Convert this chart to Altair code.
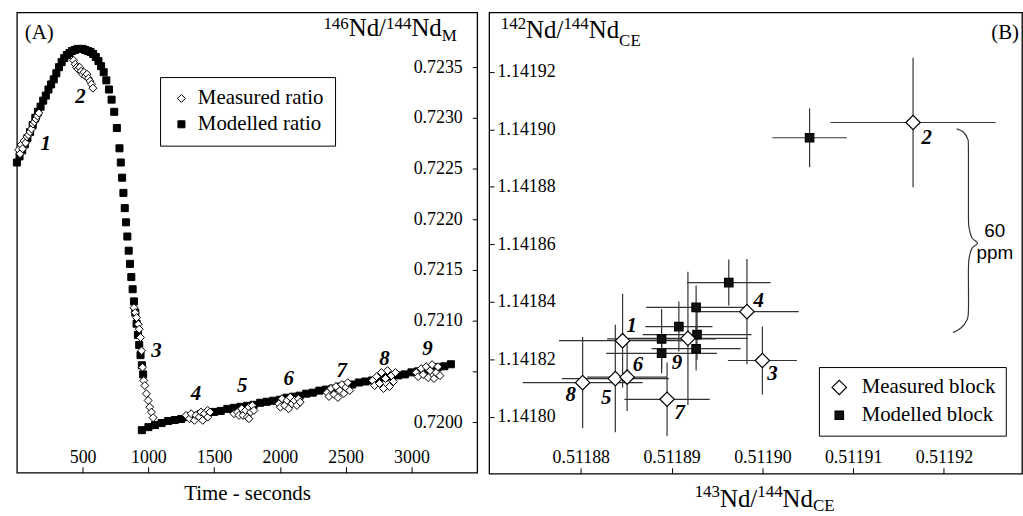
import altair as alt
import pandas as pd

FONT = "Liberation Serif"

# ---------------- Panel A data ----------------
model_t = [0, 20, 40, 60, 80, 100, 120, 140, 160, 180, 200, 220, 240, 260, 280, 300, 320, 340, 360, 380,
           400, 420, 440, 460, 480, 500, 520, 540, 560, 580, 600, 620, 640, 660, 680, 700, 720, 740, 760, 780,
           790, 800, 810, 820, 830, 840, 850, 860, 870, 880, 890, 900, 910, 920, 930, 940, 950, 960,
           950, 1000, 1050, 1100, 1150, 1200, 1250, 1300, 1350, 1400, 1450, 1500, 1550, 1600, 1650, 1700,
           1750, 1800, 1850, 1900, 1950, 2000, 2050, 2100, 2150, 2200, 2250, 2300, 2350, 2400, 2450, 2500,
           2550, 2600, 2650, 2700, 2750, 2800, 2850, 2900, 2950, 3000, 3050, 3100, 3150, 3200, 3250, 3300]
model_v = [0.72256, 0.72262, 0.72268, 0.72274, 0.72280, 0.72286, 0.72293, 0.72300, 0.72306, 0.72311,
           0.72317, 0.72322, 0.72328, 0.72333, 0.72338, 0.72344, 0.72350, 0.72355, 0.72359, 0.72362,
           0.72364, 0.72366, 0.72367, 0.72368, 0.72368, 0.72368, 0.72367, 0.72366, 0.72365, 0.72363,
           0.72360, 0.72356, 0.72351, 0.72345, 0.72337, 0.72328, 0.72318, 0.72306, 0.72290, 0.72270,
           0.72256, 0.72241, 0.72226, 0.72211, 0.72197, 0.72183, 0.72169, 0.72156, 0.72143, 0.72131,
           0.72119, 0.72108, 0.72097, 0.72086, 0.72076, 0.72066, 0.72056, 0.72047,
           0.71992, 0.71995, 0.71997, 0.71999, 0.72001, 0.72002, 0.72003, 0.72005, 0.72006, 0.72008,
           0.72009, 0.72010, 0.72011, 0.72013, 0.72014, 0.72015, 0.72016, 0.72017, 0.72019, 0.72020,
           0.72021, 0.72022, 0.72024, 0.72025, 0.72026, 0.72028, 0.72029, 0.72031, 0.72032, 0.72033,
           0.72035, 0.72036, 0.72037, 0.72039, 0.72040, 0.72041, 0.72042, 0.72044, 0.72045, 0.72046,
           0.72047, 0.72049, 0.72050, 0.72051, 0.72053, 0.72054, 0.72055, 0.72057]

meas_t = [13, 24, 32, 43, 54, 66, 77, 88, 100, 111, 122, 133, 145, 156, 167,
          431, 443, 454, 465, 477, 488, 499, 510, 522, 533, 544, 556, 567, 578,
          890, 900, 910, 923, 930, 940, 948, 955, 965, 973, 985, 998, 1010, 1023, 1036,
          1287, 1312, 1325, 1350, 1362, 1387, 1400, 1413, 1425, 1451, 1451, 1468,
          1651, 1677, 1689, 1709, 1719, 1739, 1752, 1764, 1777, 1790, 1802, 1764,
          1991, 2003, 2016, 2036, 2054, 2066, 2079, 2092, 2111, 2129, 2141, 2154,
          2358, 2373, 2388, 2411, 2426, 2441, 2456, 2471, 2486, 2501, 2516, 2531,
          2705, 2720, 2735, 2757, 2772, 2788, 2803, 2818, 2833, 2848, 2863, 2878,
          3036, 3051, 3074, 3089, 3112, 3127, 3142, 3157, 3172, 3187, 3202, 3217]
meas_v = [0.722685, 0.722646, 0.722734, 0.722695, 0.722773, 0.722753, 0.722813, 0.722832, 0.722862,
          0.722891, 0.722940, 0.722960, 0.722989, 0.723019, 0.723048,
          0.723568, 0.723529, 0.723499, 0.723480, 0.723499, 0.723460, 0.723431, 0.723450, 0.723411,
          0.723431, 0.723391, 0.723362, 0.723332, 0.723293,
          0.721128, 0.721079, 0.721030, 0.720965, 0.720916, 0.720834, 0.720703, 0.720540, 0.720409,
          0.720360, 0.720279, 0.720213, 0.720147, 0.720098, 0.720043,
          0.720066, 0.720033, 0.720082, 0.720017, 0.720066, 0.720049, 0.720098, 0.720017, 0.720082,
          0.720049, 0.720115, 0.720098,
          0.720082, 0.720098, 0.720066, 0.720131, 0.720066, 0.720115, 0.720049, 0.720147, 0.720098,
          0.720164, 0.720115, 0.720033,
          0.720180, 0.720147, 0.720230, 0.720164, 0.720213, 0.720131, 0.720245, 0.720180, 0.720213,
          0.720164, 0.720229, 0.720196,
          0.720291, 0.720252, 0.720331, 0.720272, 0.720350, 0.720242, 0.720311, 0.720370, 0.720282,
          0.720340, 0.720389, 0.720311,
          0.720409, 0.720360, 0.720448, 0.720380, 0.720488, 0.720331, 0.720429, 0.720507, 0.720350,
          0.720458, 0.720399, 0.720488,
          0.720488, 0.720448, 0.720527, 0.720468, 0.720546, 0.720438, 0.720507, 0.720566, 0.720429,
          0.720488, 0.720546, 0.720458]

blockA_lab = ["1", "2", "3", "4", "5", "6", "7", "8", "9"]
blockA_t = [219, 483, 1061, 1362, 1714, 2066, 2469, 2795, 3122]
blockA_v = [0.722746, 0.723205, 0.720703, 0.720279, 0.720360, 0.720426, 0.720507, 0.720622, 0.720720]

xticksA = [500, 1000, 1500, 2000, 2500, 3000]
yticksA = [0.7200, 0.7205, 0.7210, 0.7215, 0.7220, 0.7225, 0.7230, 0.7235]

# ---------------- Panel B data ----------------
meas_x = [0.5118846, 0.5119166, 0.5119000, 0.5118983, 0.5118838, 0.5118851, 0.5118895, 0.5118802, 0.5118918]
meas_y = [1.1418265, 1.1419024, 1.1418196, 1.1418366, 1.1418133, 1.1418138, 1.1418061, 1.1418119, 1.1418273]
meas_ex = [7.0e-6, 9.1e-6, 3.8e-6, 5.7e-6, 5.9e-6, 4.4e-6, 4.7e-6, 6.6e-6, 6.6e-6]
meas_ey = [1.63e-5, 2.25e-5, 1.18e-5, 1.83e-5, 1.87e-5, 1.18e-5, 1.28e-5, 1.59e-5, 2.32e-5]

mod_x = [0.5118963, 0.5118927, 0.5118908, 0.5118889, 0.5118928, 0.5118927, 0.5118889, 0.5119052]
mod_y = [1.1418467, 1.1418381, 1.1418314, 1.1418271, 1.1418286, 1.1418237, 1.1418221, 1.1418971]
mod_ex = [4.6e-6, 5.5e-6, 3.7e-6, 6.0e-6, 6.0e-6, 4.9e-6, 6.1e-6, 4.1e-6]
mod_ey = [8.0e-6, 7.6e-6, 8.7e-6, 1.04e-5, 8.7e-6, 7.6e-6, 6.9e-6, 1.02e-5]

blockB_lab = ["1", "2", "3", "4", "5", "6", "7", "8", "9"]
blockB_x = [0.5118856, 0.5119181, 0.5119011, 0.5118996, 0.5118828, 0.5118863, 0.5118909, 0.5118789, 0.5118906]
blockB_y = [1.1418317, 1.1418969, 1.1418150, 1.1418404, 1.1418064, 1.1418179, 1.1418012, 1.1418075, 1.1418187]

brace_x = [0.5119214, 0.5119221, 0.5119226, 0.5119227, 0.5119227, 0.5119228, 0.5119231, 0.5119237,
           0.5119231, 0.5119228, 0.5119227, 0.5119227, 0.5119225, 0.5119219, 0.5119210]
brace_y = [1.1419002, 1.1418992, 1.1418968, 1.1418930, 1.1418698, 1.1418653, 1.1418622, 1.1418604,
           1.1418587, 1.1418556, 1.1418514, 1.1418369, 1.1418335, 1.1418310, 1.1418293]
ppm_txt = ["60", "ppm"]
ppm_x = [0.5119256, 0.5119256]
ppm_y = [1.1418625, 1.1418550]

xticksB = [0.51188, 0.51189, 0.51190, 0.51191, 0.51192]
yticksB = [1.14180, 1.14182, 1.14184, 1.14186, 1.14188, 1.14190, 1.14192]

WA, HA = 463, 463
WB, HB = 536, 464
NB = "\u00a0"

anchor = pd.DataFrame({"k": [0]})


def txt(s, x, y, size, align="left", font=FONT, style="normal", weight="normal"):
    return alt.Chart(anchor).mark_text(
        text=s, font=font, fontSize=size, align=align, baseline="alphabetic",
        fontStyle=style, fontWeight=weight, color="black"
    ).encode(x=alt.value(x), y=alt.value(y))


# ---------------- Panel A ----------------
dfA = pd.concat([
    pd.DataFrame({"t": model_t, "v": model_v, "series": "Modelled ratio"}),
    pd.DataFrame({"t": meas_t, "v": meas_v, "series": "Measured ratio"}),
], ignore_index=True)
dfA_lab = pd.DataFrame({"t": blockA_t, "v": blockA_v, "lab": blockA_lab})

scaleXA = alt.Scale(domain=[0, 3500], nice=False, zero=False)
scaleYA = alt.Scale(domain=[0.7195, 0.72404], nice=False, zero=False)
axisXA = alt.Axis(orient="top", offset=-HA, values=xticksA, format="d", tickSize=6, labelPadding=4,
                  labelBaseline="alphabetic", domain=False, grid=False, title=None,
                  labelOverlap=False, labelFlush=False)
axisYA = alt.Axis(orient="left", offset=-WA, values=yticksA,
                  labelExpr="abs(datum.value - 0.7205) < 0.00001 ? '' : format(datum.value, '.4f')",
                  tickSize=5, labelPadding=10, domain=False, grid=False, title=None,
                  labelOverlap=False, labelFlush=False)

domA = ["Measured ratio", "Modelled ratio"]
legA = alt.Legend(title=None, orient="none", legendX=144, legendY=65, padding=11,
                  fillColor="white", strokeColor="black", labelFont=FONT, labelFontSize=21,
                  labelColor="black", labelOffset=6, rowPadding=4,
                  symbolStrokeWidth=1, symbolOpacity=1,
                  labelExpr="datum.label + '" + NB * 5 + "'")

pointsA = alt.Chart(dfA).mark_point(filled=True, opacity=1, strokeWidth=1).encode(
    x=alt.X("t:Q", scale=scaleXA, axis=axisXA),
    y=alt.Y("v:Q", scale=scaleYA, axis=axisYA),
    shape=alt.Shape("series:N", scale=alt.Scale(domain=domA, range=["diamond", "square"]), legend=legA),
    fill=alt.Fill("series:N", scale=alt.Scale(domain=domA, range=["white", "black"]), legend=legA),
    stroke=alt.Stroke("series:N", scale=alt.Scale(domain=domA, range=["black", "black"]), legend=legA),
    size=alt.Size("series:N", scale=alt.Scale(domain=domA, range=[64, 50]), legend=legA),
    order=alt.Order("idx:Q"),
).transform_window(idx="row_number()")

labelsA = alt.Chart(dfA_lab).mark_text(font=FONT, fontSize=21, fontWeight="bold", fontStyle="italic",
                                       align="center", baseline="middle", color="black").encode(
    x=alt.X("t:Q", scale=scaleXA, axis=axisXA),
    y=alt.Y("v:Q", scale=scaleYA, axis=axisYA),
    text="lab:N",
)

panelA = alt.layer(
    pointsA, labelsA,
    txt("(A)", 8, 27, 21),
    txt("146", 308.3, 16.7, 17), txt("Nd/", 333.8, 23.3, 25), txt("144", 371.3, 16.7, 17),
    txt("Nd", 396.8, 23.3, 25), txt("M", 427.4, 28.3, 17),
    txt("Time - seconds", 232, 490, 21, align="center"),
).properties(width=WA, height=HA)

# ---------------- Panel B ----------------
dfB = pd.concat([
    pd.DataFrame({"x": mod_x, "y": mod_y, "ex": mod_ex, "ey": mod_ey, "series": "Modelled block"}),
    pd.DataFrame({"x": meas_x, "y": meas_y, "ex": meas_ex, "ey": meas_ey, "series": "Measured block"}),
], ignore_index=True)
dfB_lab = pd.DataFrame({"x": blockB_x, "y": blockB_y, "lab": blockB_lab})
dfBrace = pd.DataFrame({"x": brace_x, "y": brace_y, "k": list(range(len(brace_x)))})
dfPPM = pd.DataFrame({"x": ppm_x, "y": ppm_y, "t": ppm_txt})

scaleXB = alt.Scale(domain=[0.5118699, 0.5119286], nice=False, zero=False)
scaleYB = alt.Scale(domain=[1.1417802, 1.1419407], nice=False, zero=False)
axisXB = alt.Axis(orient="top", offset=-HB, values=xticksB, format=".5f", tickSize=6, labelPadding=5,
                  labelBaseline="alphabetic", domain=False, grid=False, title=None,
                  labelOverlap=False, labelFlush=False)
axisYB = alt.Axis(orient="right", offset=-WB, values=yticksB, format=".5f", tickSize=5, labelPadding=3,
                  domain=False, grid=False, title=None, labelOverlap=False, labelFlush=False)

domB = ["Measured block", "Modelled block"]
legB = alt.Legend(title=None, orient="none", legendX=331.7, legendY=356.7, padding=10,
                  fillColor="white", strokeColor="black", labelFont=FONT, labelFontSize=21,
                  labelColor="black", labelOffset=12, rowPadding=6,
                  symbolStrokeWidth=1.2, symbolOpacity=1,
                  labelExpr="datum.label + '" + NB * 3 + "'")

XB = alt.X("x:Q", scale=scaleXB, axis=axisXB)
YB = alt.Y("y:Q", scale=scaleYB, axis=axisYB)

errH = alt.Chart(dfB).transform_calculate(
    lo="datum.x - datum.ex", hi="datum.x + datum.ex"
).mark_rule(color="#333333", strokeWidth=1.2).encode(
    x=alt.X("lo:Q", scale=scaleXB, axis=axisXB), x2="hi:Q", y=YB)
errV = alt.Chart(dfB).transform_calculate(
    lo="datum.y - datum.ey", hi="datum.y + datum.ey"
).mark_rule(color="#333333", strokeWidth=1.2).encode(
    x=XB, y=alt.Y("lo:Q", scale=scaleYB, axis=axisYB), y2="hi:Q")

pointsB = alt.Chart(dfB).mark_point(filled=True, opacity=1, strokeWidth=1.2).encode(
    x=XB, y=YB,
    shape=alt.Shape("series:N", scale=alt.Scale(domain=domB, range=["diamond", "square"]), legend=legB),
    fill=alt.Fill("series:N", scale=alt.Scale(domain=domB, range=["white", "#111111"]), legend=legB),
    stroke=alt.Stroke("series:N", scale=alt.Scale(domain=domB, range=["black", "black"]), legend=legB),
    size=alt.Size("series:N", scale=alt.Scale(domain=domB, range=[210, 72]), legend=legB),
    order=alt.Order("idx:Q"),
).transform_window(idx="row_number()")

labelsB = alt.Chart(dfB_lab).mark_text(font=FONT, fontSize=21, fontWeight="bold", fontStyle="italic",
                                       align="center", baseline="middle", color="black").encode(
    x=XB, y=YB, text="lab:N")

brace = alt.Chart(dfBrace).mark_line(color="#333333", strokeWidth=1.2, interpolate="cardinal").encode(
    x=XB, y=YB, order="k:Q")

ppm = alt.Chart(dfPPM).mark_text(font="Liberation Sans", fontSize=19, align="center",
                                 baseline="alphabetic", color="black").encode(x=XB, y=YB, text="t:N")

panelB = alt.layer(
    errH, errV, pointsB, labelsB, brace, ppm,
    txt("(B)", 533, 27, 21, align="right"),
    txt("142", 11.7, 17, 17), txt("Nd/", 37.2, 26, 25), txt("144", 74.7, 17, 17),
    txt("Nd", 100.2, 26, 25), txt("CE", 130.75, 34, 17),
    txt("143", 206.7, 487, 17), txt("Nd/", 232.2, 497, 25), txt("144", 269.7, 487, 17),
    txt("Nd", 295.2, 497, 25), txt("CE", 325.75, 501, 17),
).properties(width=WB, height=HB)

chart = alt.HConcatChart(hconcat=[panelA, panelB], spacing=12, bounds="flush").resolve_scale(
    x="independent", y="independent", shape="independent", fill="independent", size="independent",
    stroke="independent"
).resolve_legend(
    shape="independent", fill="independent", size="independent", stroke="independent"
).properties(
    padding={"left": 10, "top": 10, "right": 0, "bottom": 0},
    background="white",
).configure_view(
    stroke="black", strokeWidth=1.3
).configure_axis(
    labelFont=FONT, labelFontSize=18, labelColor="black", tickColor="black", tickWidth=1
)

chart.save("out.html", embed_options={"renderer": "svg", "actions": False})
